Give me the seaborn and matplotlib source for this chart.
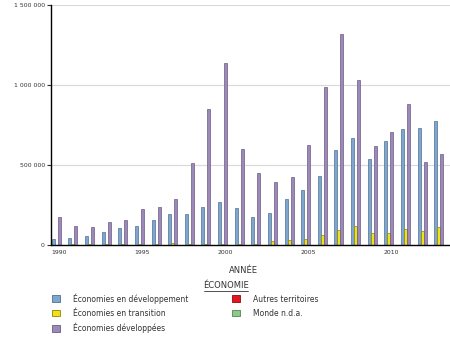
import matplotlib
matplotlib.use("Agg")
import matplotlib.pyplot as plt
import seaborn as sns
import pandas as pd
from matplotlib.patches import Patch
from matplotlib.lines import Line2D
from matplotlib.ticker import FuncFormatter

years = list(range(1990, 2014))
dev_en_developpement = [37, 42, 54, 77, 106, 119, 152, 194, 190, 234, 265, 227, 171, 198,
                        286, 340, 431, 592, 669, 534, 648, 723, 729, 778]
dev_en_transition = [1, 2, 3, 4, 4, 5, 6, 8, 5, 5, 4, 3, 4, 21,
                     31, 35, 60, 92, 119, 73, 73, 98, 85, 110]
dev_developpees = [175, 115, 112, 144, 152, 223, 238, 286, 509, 852, 1140, 602, 448, 390,
                   425, 623, 986, 1319, 1029, 619, 704, 879, 517, 567]
autres_territoires = [0] * 24
monde_nda = [0] * 24

series_names = ["Économies en développement", "Économies en transition",
                "Économies développées", "Autres territoires", "Monde n.d.a."]
series_values = [dev_en_developpement, dev_en_transition, dev_developpees,
                 autres_territoires, monde_nda]
colors = ["#7fa6cf", "#efe21a", "#9c89b8", "#e3171f", "#8cc98a"]
edges = ["#4f6f92", "#8e8400", "#6b5a85", "#8a0c10", "#4f8a4d"]

rows = []
for name, vals in zip(series_names, series_values):
    for y, v in zip(years, vals):
        rows.append({"ANNÉE": str(y), "ÉCONOMIE": name, "valeur": v * 1000})
df = pd.DataFrame(rows)

sns.set_theme(style="white")
plt.rcParams["font.family"] = ["DejaVu Sans"]

fig = plt.figure(figsize=(4.5, 3.37), dpi=100)
ax = fig.add_axes([51 / 450, 92.3 / 337, 399 / 450, 239.4 / 337])

sns.barplot(data=df, x="ANNÉE", y="valeur", hue="ÉCONOMIE", hue_order=series_names,
            palette=colors, ax=ax, width=0.9, legend=False, saturation=1)

for i, cont in enumerate(ax.containers):
    for bar in cont:
        bar.set_edgecolor(edges[i])
        bar.set_linewidth(0.5)

ax.set_ylim(0, 1500000)
ax.set_xlim(-0.5, 23.5)
ax.set_yticks([0, 500000, 1000000, 1500000])
ax.yaxis.set_major_formatter(FuncFormatter(lambda v, p: f"{int(v):,}".replace(",", " ")))
ax.set_xticks([0, 5, 10, 15, 20])
ax.set_xticklabels(["1990", "1995", "2000", "2005", "2010"])
ax.tick_params(axis="y", labelsize=4.4, colors="#333333", length=3, width=0.8, left=True, pad=1.5)
ax.tick_params(axis="x", labelsize=4.4, colors="#333333", length=0, pad=4)
ax.yaxis.grid(True, color="#d9d9d9", linewidth=0.8)
ax.set_axisbelow(True)
for s in ["top", "right"]:
    ax.spines[s].set_visible(False)
ax.spines["left"].set_color("black")
ax.spines["bottom"].set_color("black")
ax.spines["left"].set_linewidth(1)
ax.spines["bottom"].set_linewidth(1)
ax.set_ylabel("")
ax.set_xlabel("ANNÉE", fontsize=6, color="#333333")
ax.xaxis.set_label_coords((243 - 51) / 399, -(266 - 244.7) / 239.4)

# legend
handles = [Patch(facecolor=c, edgecolor=e, linewidth=0.6) for c, e in zip(colors, edges)]
leg = fig.legend(handles, series_names, ncol=2, loc="upper left",
                 bbox_to_anchor=(52 / 450, 1 - 293 / 337), frameon=False,
                 fontsize=5.5, handlelength=1.0, handleheight=1.0, handletextpad=1.7,
                 labelspacing=0.66, columnspacing=5.8, borderaxespad=0, borderpad=0)
for t in leg.get_texts():
    t.set_color("#333333")

fig.text(226 / 450, 1 - 286 / 337, "ÉCONOMIE", ha="center", va="center", fontsize=6,
         color="#333333")
fig.add_artist(Line2D([204 / 450, 248 / 450], [1 - 291 / 337, 1 - 291 / 337],
                      color="#333333", linewidth=0.6))

fig.savefig("out.png", dpi=100)
